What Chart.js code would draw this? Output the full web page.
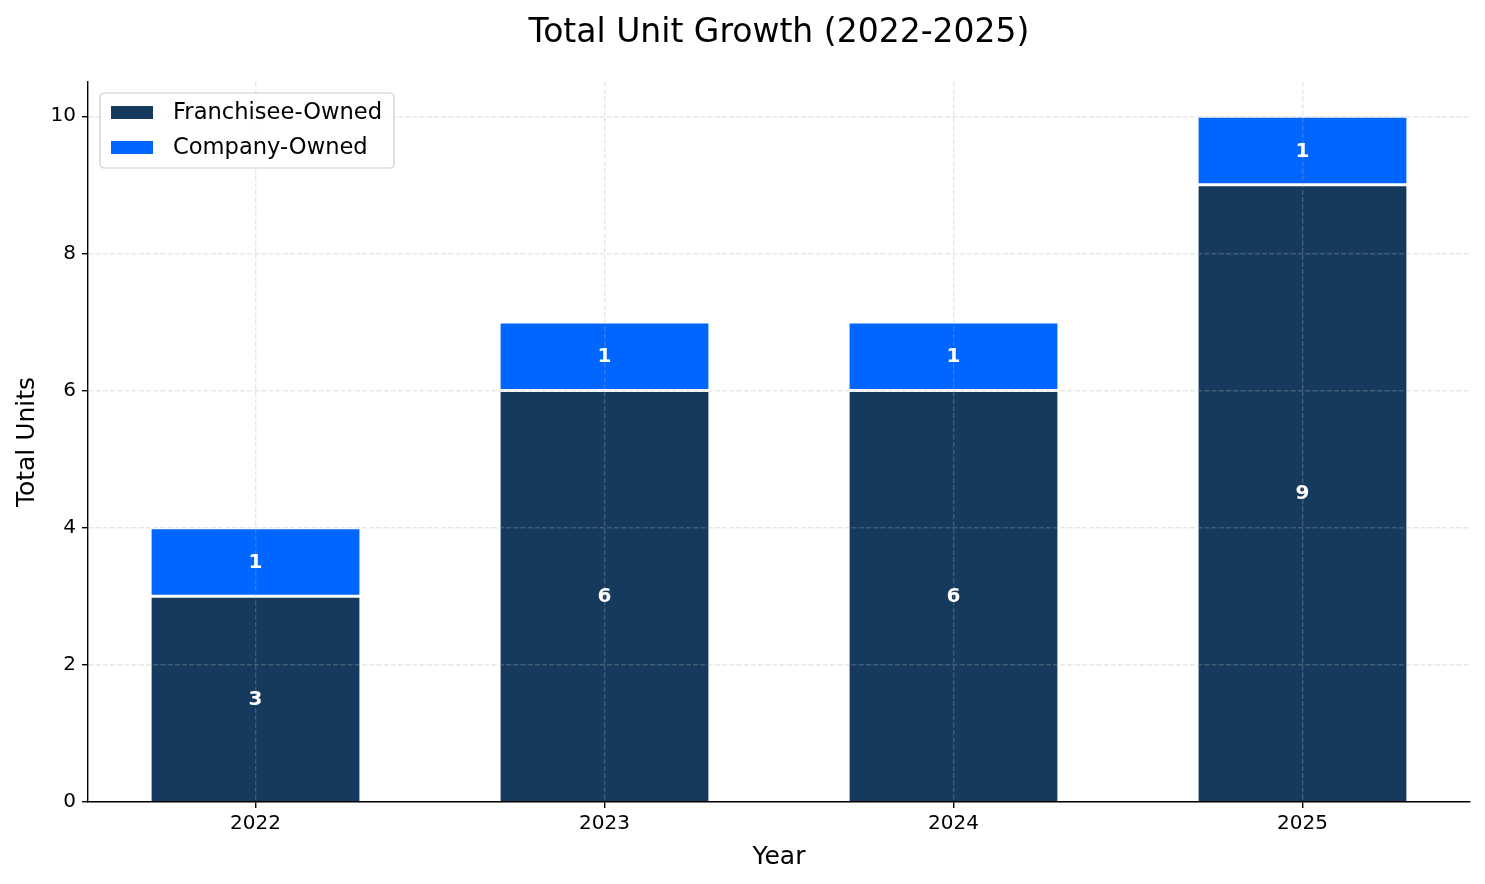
<!DOCTYPE html>
<html>
<head>
<meta charset="utf-8">
<title>Total Unit Growth (2022-2025)</title>
<script src="https://cdn.jsdelivr.net/npm/chart.js@4.4.1/dist/chart.umd.min.js"></script>
<style>
  html, body { margin: 0; padding: 0; background: #fff; }
  #wrap { width: 1485px; height: 884px; position: relative; }
</style>
</head>
<body>
<div id="wrap"><canvas id="grafico"></canvas></div>
<script>
// Dados do gráfico
var anos = ["2022", "2023", "2024", "2025"];
var franqueados = [3, 6, 6, 9];
var proprias = [1, 1, 1, 1];
var ticksY = [0, 2, 4, 6, 8, 10];
var titulo = "Total Unit Growth (2022-2025)";

var fonte = "'DejaVu Sans', sans-serif";
var corFranquia = "#163A5E";
var corPropria = "#0066FF";

// Converte para pontos {x, y} no eixo linear
function paraPontos(valores) {
  return valores.map(function (v, i) {
    return { x: i, y: v };
  });
}

// Título centrado sobre a área do gráfico
var tituloArea = {
  id: "tituloArea",
  afterDraw: function (chart) {
    var ctx = chart.ctx;
    var area = chart.chartArea;
    ctx.save();
    ctx.fillStyle = "#000";
    ctx.font = "33px " + fonte;
    ctx.textAlign = "center";
    ctx.textBaseline = "middle";
    ctx.fillText(titulo, (area.left + area.right) / 2, 33);
    ctx.restore();
  },
};

// Escreve o valor no meio de cada segmento
var rotulosBarras = {
  id: "rotulosBarras",
  afterDraw: function (chart) {
    var ctx = chart.ctx;
    ctx.save();
    ctx.fillStyle = "#fff";
    ctx.font = "bold 20px " + fonte;
    ctx.textAlign = "center";
    ctx.textBaseline = "middle";
    chart.data.datasets.forEach(function (ds, d) {
      var meta = chart.getDatasetMeta(d);
      meta.data.forEach(function (bar, i) {
        var p = bar.getProps(["x", "y", "base"], true);
        ctx.fillText(String(ds.data[i].y), p.x, (p.y + p.base) / 2 + 1);
      });
    });
    ctx.restore();
  },
};

// Legenda dentro da área do gráfico, canto superior esquerdo
var legendaCaixa = {
  id: "legendaCaixa",
  afterDraw: function (chart) {
    var ctx = chart.ctx;
    var area = chart.chartArea;
    var x0 = area.left + 12;
    var y0 = area.top + 11;
    var w = 294;
    var h = 75;
    ctx.save();
    ctx.beginPath();
    ctx.roundRect(x0, y0, w, h, 4);
    ctx.fillStyle = "rgba(255,255,255,0.85)";
    ctx.fill();
    ctx.strokeStyle = "#cccccc";
    ctx.lineWidth = 1.2;
    ctx.stroke();
    ctx.font = "22.6px " + fonte;
    ctx.textBaseline = "middle";
    ctx.textAlign = "left";
    chart.data.datasets.forEach(function (ds, d) {
      var cy = y0 + 20 + d * 35;
      ctx.fillStyle = ds.backgroundColor;
      ctx.fillRect(x0 + 11, cy - 7, 42, 13);
      ctx.fillStyle = "#000";
      ctx.fillText(ds.label, x0 + 73, cy);
    });
    ctx.restore();
  },
};

// Grade tracejada por cima das barras
var gradeComum = {
  z: 1,
  color: "rgba(176,176,176,0.3)",
  lineWidth: 1.4,
  offset: false,
  drawTicks: true,
  tickLength: 6,
  tickColor: "#000",
  tickWidth: 1.4,
  tickBorderDash: [],
};

var bordaComum = { display: true, color: "#000", width: 1.4, dash: [5, 2.2], z: 2 };

var ctx = document.getElementById("grafico").getContext("2d");
var grafico = new Chart(ctx, {
  type: "bar",
  data: {
    datasets: [
      {
        label: "Franchisee-Owned",
        data: paraPontos(franqueados),
        backgroundColor: corFranquia,
        borderColor: "#ffffff",
        borderWidth: { top: 1.5, bottom: 0, left: 0.8, right: 0.8 },
        borderSkipped: false,
        barPercentage: 0.6,
        categoryPercentage: 1,
      },
      {
        label: "Company-Owned",
        data: paraPontos(proprias),
        backgroundColor: corPropria,
        borderColor: "#ffffff",
        borderWidth: { top: 1.5, bottom: 1.5, left: 0.8, right: 0.8 },
        borderSkipped: false,
        barPercentage: 0.6,
        categoryPercentage: 1,
      },
    ],
  },
  plugins: [rotulosBarras, legendaCaixa, tituloArea],
  options: {
    responsive: true,
    maintainAspectRatio: false,
    animation: false,
    devicePixelRatio: 1,
    layout: { padding: { left: 0, right: 15, top: 82, bottom: 0 } },
    plugins: {
      legend: { display: false },
      tooltip: { enabled: false },
      title: { display: false },
    },
    scales: {
      x: {
        type: "linear",
        stacked: true,
        min: -0.48,
        max: 3.48,
        offset: false,
        border: bordaComum,
        grid: gradeComum,
        afterBuildTicks: function (s) {
          s.ticks = anos.map(function (a, i) {
            return { value: i };
          });
        },
        ticks: {
          z: 2,
          color: "#000",
          padding: 4,
          maxRotation: 0,
          font: { family: fonte, size: 20 },
          callback: function (v) {
            return anos[v];
          },
        },
        title: {
          display: true,
          text: "Year",
          color: "#000",
          font: { family: fonte, size: 25 },
          padding: { top: 0, bottom: 12 },
        },
        afterFit: function (s) {
          s.height = 82;
        },
      },
      y: {
        stacked: true,
        min: 0,
        max: 10.5,
        border: bordaComum,
        grid: gradeComum,
        afterBuildTicks: function (s) {
          s.ticks = ticksY.map(function (v) {
            return { value: v };
          });
        },
        ticks: {
          z: 2,
          color: "#000",
          padding: 6,
          font: { family: fonte, size: 20 },
        },
        title: {
          display: true,
          text: "Total Units",
          color: "#000",
          font: { family: fonte, size: 25 },
          padding: { top: 12, bottom: 0 },
        },
        afterFit: function (s) {
          s.width = 88;
        },
      },
    },
  },
});
</script>
</body>
</html>
